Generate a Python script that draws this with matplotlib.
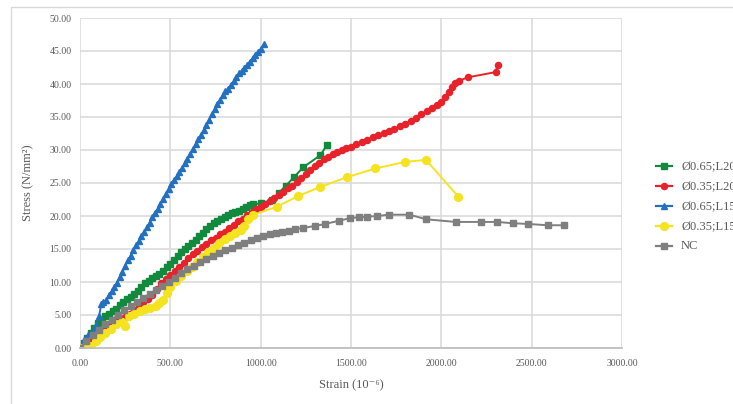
import matplotlib
matplotlib.use("Agg")
import matplotlib.pyplot as plt
from matplotlib.lines import Line2D
from matplotlib.patches import Rectangle

# Stress-strain curves (strain in 10^-6, stress in N/mm^2)
green_strain = [0, 20, 40, 60, 80, 100, 120, 140, 160, 180, 200, 220, 240, 260, 280, 300,
                320, 340, 360, 380, 400, 420, 440, 460, 480, 500, 520, 540, 560, 580, 600,
                620, 640, 660, 680, 700, 720, 740, 760, 780, 800, 820, 840, 860, 880, 900,
                920, 940, 960, 1000, 1060, 1100, 1140, 1185, 1236, 1330, 1368]
green_stress = [0.0, 0.8, 1.5, 2.2, 3.0, 3.8, 4.3, 4.8, 5.2, 5.6, 5.9, 6.5, 7.0, 7.4, 7.8, 8.2,
                8.7, 9.2, 9.8, 10.2, 10.6, 10.9, 11.2, 11.7, 12.2, 12.8, 13.4, 14.0, 14.6, 15.0, 15.4,
                15.9, 16.4, 16.9, 17.4, 18.0, 18.5, 18.9, 19.2, 19.6, 19.9, 20.2, 20.4, 20.6, 20.8, 21.0,
                21.3, 21.6, 21.8, 21.9, 22.4, 23.5, 24.6, 25.9, 27.4, 29.2, 30.8]

red_strain = [0, 25, 50, 75, 100, 125, 150, 175, 200, 225, 250, 275, 300, 325, 350, 375, 400,
              425, 450, 475, 500, 525, 550, 575, 600, 625, 650, 675, 700, 725, 750, 775, 800,
              825, 850, 875, 900, 925, 950, 975, 1000, 1025, 1050, 1075, 1100, 1125, 1150,
              1175, 1200, 1225, 1250, 1275, 1300, 1325, 1350, 1375, 1400, 1425, 1450, 1475,
              1500, 1530, 1560, 1590, 1620, 1650, 1680, 1710, 1740, 1770, 1800, 1830, 1860,
              1890, 1920, 1950, 1975, 2000, 2020, 2040, 2060, 2075, 2100, 2145, 2300, 2312]
red_stress = [0.0, 0.6, 1.2, 1.9, 2.5, 2.9, 3.2, 3.6, 4.0, 4.3, 4.7, 5.2, 5.8, 6.4, 7.0, 7.5, 8.0,
              8.9, 9.9, 10.4, 11.0, 11.6, 12.2, 12.9, 13.6, 14.2, 14.7, 15.3, 15.8, 16.3, 16.7, 17.2, 17.6,
              18.2, 18.7, 19.2, 19.6, 20.1, 20.6, 21.0, 21.3, 21.8, 22.3, 22.8, 23.2, 23.7, 24.2,
              24.6, 25.1, 25.8, 26.4, 27.0, 27.6, 28.1, 28.6, 29.0, 29.4, 29.7, 30.0, 30.3,
              30.5, 30.9, 31.2, 31.5, 31.9, 32.2, 32.6, 32.9, 33.2, 33.6, 34.0, 34.4, 34.9,
              35.4, 35.9, 36.4, 36.8, 37.3, 38.0, 38.8, 39.6, 40.1, 40.5, 41.0, 41.8, 42.9]

blue_strain = [0, 15, 30, 45, 60, 75, 90, 105, 118, 130, 145, 160, 175, 190, 205, 220, 235,
               250, 265, 280, 295, 310, 325, 340, 355, 370, 385, 400, 415, 430, 445, 460, 475,
               490, 505, 520, 535, 550, 565, 580, 595, 610, 625, 640, 655, 670, 685, 700, 715,
               730, 745, 760, 775, 790, 805, 820, 835, 850, 865, 880, 895, 910, 925, 940, 955,
               970, 985, 1000, 1018]
blue_stress = [0.0, 0.8, 1.5, 2.0, 2.2, 2.6, 3.5, 4.8, 6.6, 6.9, 7.2, 8.0, 8.6, 9.2, 9.9, 10.8, 11.5,
               12.4, 13.3, 14.0, 14.8, 15.6, 16.2, 16.9, 17.6, 18.3, 19.0, 19.8, 20.5, 21.1, 21.8, 22.6, 23.4,
               24.1, 24.8, 25.4, 26.0, 26.6, 27.3, 28.0, 28.7, 29.4, 30.1, 30.9, 31.6, 32.3, 33.0, 33.8, 34.6,
               35.4, 36.2, 37.0, 37.6, 38.3, 38.9, 39.3, 39.8, 40.4, 41.0, 41.6, 42.0, 42.5, 42.9, 43.4, 43.9,
               44.4, 44.9, 45.3, 46.0]

yellow_strain = [0, 30, 60, 90, 110, 140, 170, 200, 230, 250, 270, 300, 330, 360, 390, 420, 440,
                 460, 480, 500, 530, 560, 590, 620, 650, 680, 710, 740, 770, 800, 830, 860, 890,
                 910, 930, 960, 1090, 1205, 1330, 1480, 1635, 1800, 1915, 2095]
yellow_stress = [0.0, 0.1, 0.3, 1.0, 1.7, 2.2, 2.9, 3.6, 4.0, 3.4, 4.8, 5.2, 5.6, 5.9, 6.1, 6.3, 6.8,
                 7.3, 8.3, 9.2, 10.2, 10.9, 11.6, 12.3, 13.0, 13.8, 14.5, 15.2, 15.9, 16.5, 17.0, 17.4, 17.9,
                 18.5, 19.5, 20.2, 21.4, 23.0, 24.4, 25.9, 27.2, 28.2, 28.5, 22.9]

nc_strain = [0, 35, 70, 105, 140, 175, 210, 245, 280, 315, 350, 385, 420, 455, 490, 525, 560,
             595, 630, 665, 700, 735, 770, 805, 840, 875, 910, 945, 980, 1015, 1050, 1085, 1120,
             1155, 1190, 1236, 1303, 1358, 1436, 1497, 1543, 1590, 1645, 1712, 1823, 1917, 2079,
             2217, 2310, 2395, 2477, 2588, 2677]
nc_stress = [0.0, 1.0, 1.9, 2.8, 3.6, 4.3, 5.0, 5.7, 6.3, 7.0, 7.6, 8.2, 8.8, 9.4, 10.0, 10.6, 11.3,
             11.9, 12.5, 13.0, 13.5, 14.0, 14.4, 14.8, 15.2, 15.6, 15.9, 16.3, 16.6, 16.9, 17.2, 17.4, 17.6,
             17.8, 18.0, 18.2, 18.5, 18.8, 19.3, 19.7, 19.8, 19.9, 20.0, 20.2, 20.2, 19.5, 19.1,
             19.1, 19.1, 18.9, 18.8, 18.6, 18.6]

series_labels = ["Ø0.65;L20", "Ø0.35;L20", "Ø0.65;L15", "Ø0.35;L15", "NC"]
x_ticks = [0, 500, 1000, 1500, 2000, 2500, 3000]
y_ticks = [0, 5, 10, 15, 20, 25, 30, 35, 40, 45, 50]

styles = [
    dict(color="#128a3e", marker="s", ms=4.6),
    dict(color="#e8222a", marker="o", ms=4.4),
    dict(color="#2270bf", marker="^", ms=5.0),
    dict(color="#f5e320", marker="o", ms=5.6),
    dict(color="#7f7f7f", marker="s", ms=4.0),
]
data = [(green_strain, green_stress), (red_strain, red_stress),
        (blue_strain, blue_stress), (yellow_strain, yellow_stress),
        (nc_strain, nc_stress)]

W, H = 733, 404
fig = plt.figure(figsize=(W / 100, H / 100), dpi=100)
serif = ["Liberation Serif", "DejaVu Serif"]
text_color = "#595959"

# outer chart frame
fig.add_artist(Rectangle((11 / W, -0.2), 1.2, 1 - 7 / H + 0.2, transform=fig.transFigure,
                         fill=False, edgecolor="#d9d9d9", lw=1.0))

ax = fig.add_axes([80 / W, 1 - 348 / H, (622 - 80) / W, (348 - 18) / H])
for (xs, ys), st, lab in zip(data, styles, series_labels):
    ax.plot(xs, ys, color=st["color"], marker=st["marker"], markersize=st["ms"],
            markeredgecolor=st["color"], lw=1.4, label=lab)

ax.set_xlim(0, 3000)
ax.set_ylim(0, 50)
ax.set_xticks(x_ticks)
ax.set_yticks(y_ticks)
ax.set_xticklabels([f"{v:.2f}" for v in x_ticks], fontfamily=serif, fontsize=7, color=text_color)
ax.set_yticklabels([f"{v:.2f}" for v in y_ticks], fontfamily=serif, fontsize=7, color=text_color)
ax.tick_params(length=0)
ax.tick_params(axis="y", pad=6)
ax.tick_params(axis="x", pad=8)
ax.grid(True, color="#d9d9d9", lw=1.1)
ax.set_axisbelow(True)
for side in ["top", "right", "left"]:
    ax.spines[side].set_visible(False)
ax.spines["bottom"].set_color("#bfbfbf")
ax.spines["bottom"].set_linewidth(1.3)

fig.text(28 / W, 1 - 183 / H, "Stress (N/mm²)", rotation=90, ha="center", va="center",
         fontfamily=serif, fontsize=9, color=text_color)
fig.text(351 / W, 1 - 385 / H, "Strain (10⁻⁶)", ha="center", va="center",
         fontfamily=serif, fontsize=9, color=text_color)

# legend drawn at the right of the plot
rows = [166, 186, 206, 226, 246]
for y, st, lab in zip(rows, styles, series_labels):
    fig.add_artist(Line2D([656 / W, 672 / W], [1 - y / H, 1 - y / H], transform=fig.transFigure,
                          color=st["color"], lw=1.6))
    fig.add_artist(Line2D([664 / W], [1 - y / H], transform=fig.transFigure,
                          color=st["color"], marker=st["marker"], markersize=st["ms"],
                          markeredgecolor=st["color"]))
    fig.text(681 / W, 1 - y / H, lab, ha="left", va="center", fontfamily=serif,
             fontsize=9, color=text_color)

fig.savefig("out.png", dpi=100)
